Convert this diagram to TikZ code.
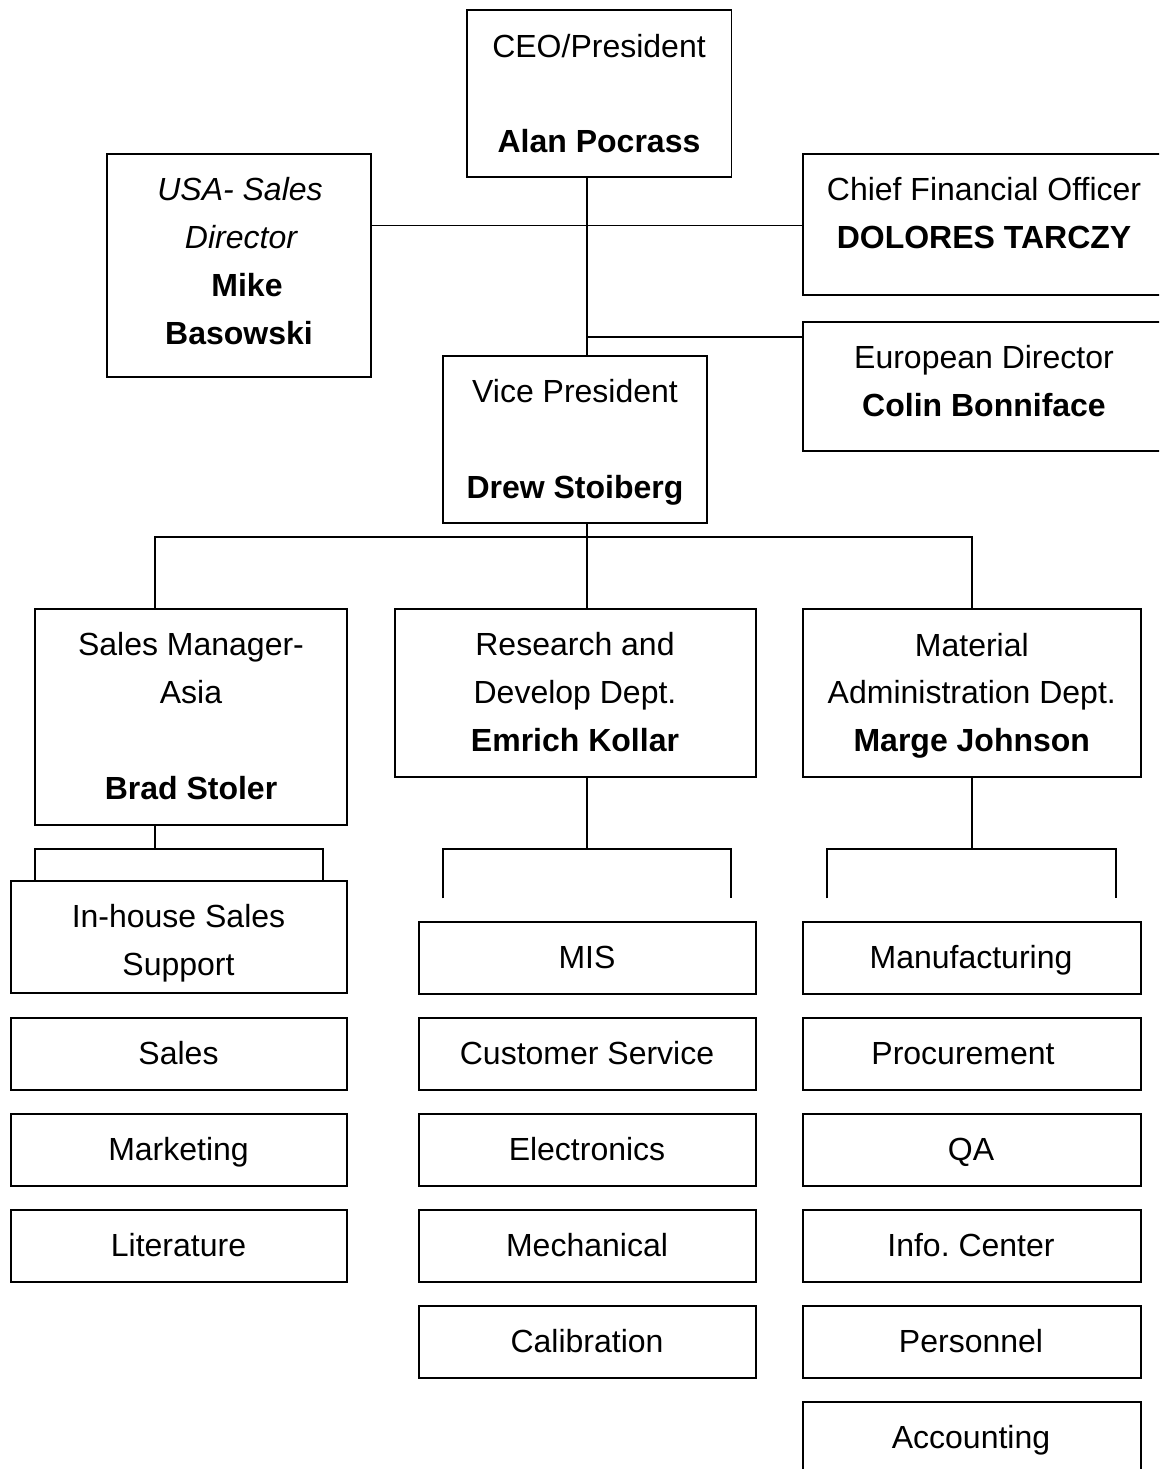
\documentclass[tikz,border=0pt]{standalone}
\usepackage{fontspec}
\setmainfont{Liberation Sans}
\frenchspacing
\newcommand\mkbox[5]{\node[box, minimum width={#4-#2}, minimum height={#5-#3}] (#1) at ({(#2+#4)/2},{(#3+#5)/2}) {};}
\begin{document}
\begin{tikzpicture}[x=1pt,y=-1pt,
  box/.style={draw, line width=1.9pt, inner sep=0pt, outer sep=0pt, rectangle},
  conn/.style={draw, line width=1.9pt},
  txt/.style={anchor=base, inner sep=0pt, font=\fontsize{32}{38}\selectfont},
  btxt/.style={txt, font=\fontsize{32}{38}\selectfont\bfseries},
  itxt/.style={txt, font=\fontsize{32}{38}\selectfont\itshape}]
\useasboundingbox (0,0) rectangle (1159,1469);
\clip (0,0) rectangle (1159,1469);
% boxes
\mkbox{ceo}{467}{9.6}{731.5}{177.3}
\mkbox{usa}{107}{154}{371}{377}
\mkbox{cfo}{803.4}{154}{1165}{294.8}
\mkbox{euro}{803.4}{322}{1165}{451}
\mkbox{vp}{443}{355.7}{707.3}{523.4}
\mkbox{sm}{35}{609.3}{347}{825}
\mkbox{rd}{395}{609.3}{755.6}{777.3}
\mkbox{mat}{803}{609.3}{1140.6}{777.3}
\mkbox{inh}{10.7}{880.7}{347}{993.3}
\mkbox{sales}{11}{1017.7}{347}{1089.7}
\mkbox{mkt}{11}{1113.7}{347}{1185.7}
\mkbox{lit}{11}{1209.7}{347}{1281.7}
\mkbox{mis}{419}{921.7}{755.6}{993.7}
\mkbox{cs}{419}{1017.7}{755.6}{1089.7}
\mkbox{elec}{419}{1113.7}{755.6}{1185.7}
\mkbox{mech}{419}{1209.7}{755.6}{1281.7}
\mkbox{cal}{419}{1305.7}{755.6}{1377.7}
\mkbox{manu}{803}{921.7}{1140.6}{993.7}
\mkbox{proc}{803}{1017.7}{1140.6}{1089.7}
\mkbox{qa}{803}{1113.7}{1140.6}{1185.7}
\mkbox{info}{803}{1209.7}{1140.6}{1281.7}
\mkbox{pers}{803}{1305.7}{1140.6}{1377.7}
\mkbox{acc}{803}{1401.7}{1140.6}{1473.7}
% texts
\node[txt]  (t1)  at (599,57.5)  {CEO/President};
\node[btxt] (t2)  at (599,152.5) {Alan Pocrass};
\node[itxt] (t3)  at (240,200.5) {USA- Sales};
\node[itxt] (t4)  at (241,248.5) {Director};
\node[btxt] (t5)  at (247,296.5) {Mike};
\node[btxt] (t6)  at (239,344.5) {Basowski};
\node[txt]  (t7)  at (984,200.5) {Chief Financial Officer};
\node[btxt] (t8)  at (984,248.5) {DOLORES TARCZY};
\node[txt]  (t9)  at (984,368.5) {European Director};
\node[btxt] (t10) at (984,416)   {Colin Bonniface};
\node[txt]  (t11) at (575,402)   {Vice President};
\node[btxt] (t12) at (575,498)   {Drew Stoiberg};
\node[txt]  (t13) at (191,655.5) {Sales Manager-};
\node[txt]  (t14) at (191,703.5) {Asia};
\node[btxt] (t15) at (191,799.5) {Brad Stoler};
\node[txt]  (t16) at (575,655.5) {Research and};
\node[txt]  (t17) at (575,703.5) {Develop Dept.};
\node[btxt] (t18) at (575,751.5) {Emrich Kollar};
\node[txt]  (t19) at (971.8,656) {Material};
\node[txt]  (t20) at (971.8,703.5) {Administration Dept.};
\node[btxt] (t21) at (971.8,751.5) {Marge Johnson};
\node[txt]  (t22) at (178.5,927.5) {In-house Sales};
\node[txt]  (t23) at (178.5,975.5) {Support};
\node[txt]  (t24) at (178.5,1064) {Sales};
\node[txt]  (t25) at (178.5,1160) {Marketing};
\node[txt]  (t26) at (178.5,1256) {Literature};
\node[txt]  (t27) at (587,968)  {MIS};
\node[txt]  (t28) at (587,1064) {Customer Service};
\node[txt]  (t29) at (587,1160) {Electronics};
\node[txt]  (t30) at (587,1256) {Mechanical};
\node[txt]  (t31) at (587,1352) {Calibration};
\node[txt]  (t32) at (971,968)  {Manufacturing};
\node[txt]  (t33) at (963,1064) {Procurement};
\node[txt]  (t34) at (971,1160) {QA};
\node[txt]  (t35) at (971,1256) {Info. Center};
\node[txt]  (t36) at (971,1352) {Personnel};
\node[txt]  (t37) at (971,1448) {Accounting};
% junction coordinates
\coordinate (spine) at (587,0);
\coordinate (jUSA) at (587,225.5);
\coordinate (jEU) at (587,337);
\coordinate (jVP) at (587,537.3);
\coordinate (dSM) at (155,537.3);
\coordinate (dMat) at (971.8,537.3);
\coordinate (smb) at (155,849.3);
\coordinate (smL) at (34.8,849.3);
\coordinate (smR) at (323.4,849.3);
\coordinate (rdb) at (587,849.3);
\coordinate (rdL) at (442.8,849.3);
\coordinate (rdR) at (731,849.3);
\coordinate (rdLe) at (442.8,898.3);
\coordinate (rdRe) at (731,898.3);
\coordinate (mtb) at (971.8,849.3);
\coordinate (mtL) at (827,849.3);
\coordinate (mtR) at (1116,849.3);
\coordinate (mtLe) at (827,898.3);
\coordinate (mtRe) at (1116,898.3);
% connectors
\draw[conn] (ceo.south -| spine) -- (vp.north -| spine);
\draw[conn] (usa.east |- jUSA) -- (cfo.west |- jUSA);
\draw[conn] (jEU) -- (euro.west |- jEU);
\draw[conn] (vp.south -| spine) -- (jVP) -- (rd.north -| spine);
\draw[conn] (sm.north -| dSM) -- (dSM) -- (dMat) -- (mat.north);
\draw[conn] (sm.south -| smb) -- (smb);
\draw[conn] (inh.north -| smL) -- (smL) -- (smR) -- (inh.north -| smR);
\draw[conn] (rd.south -| rdb) -- (rdb);
\draw[conn] (rdLe) -- (rdL) -- (rdR) -- (rdRe);
\draw[conn] (mat.south) -- (mtb);
\draw[conn] (mtLe) -- (mtL) -- (mtR) -- (mtRe);
\end{tikzpicture}
\end{document}
